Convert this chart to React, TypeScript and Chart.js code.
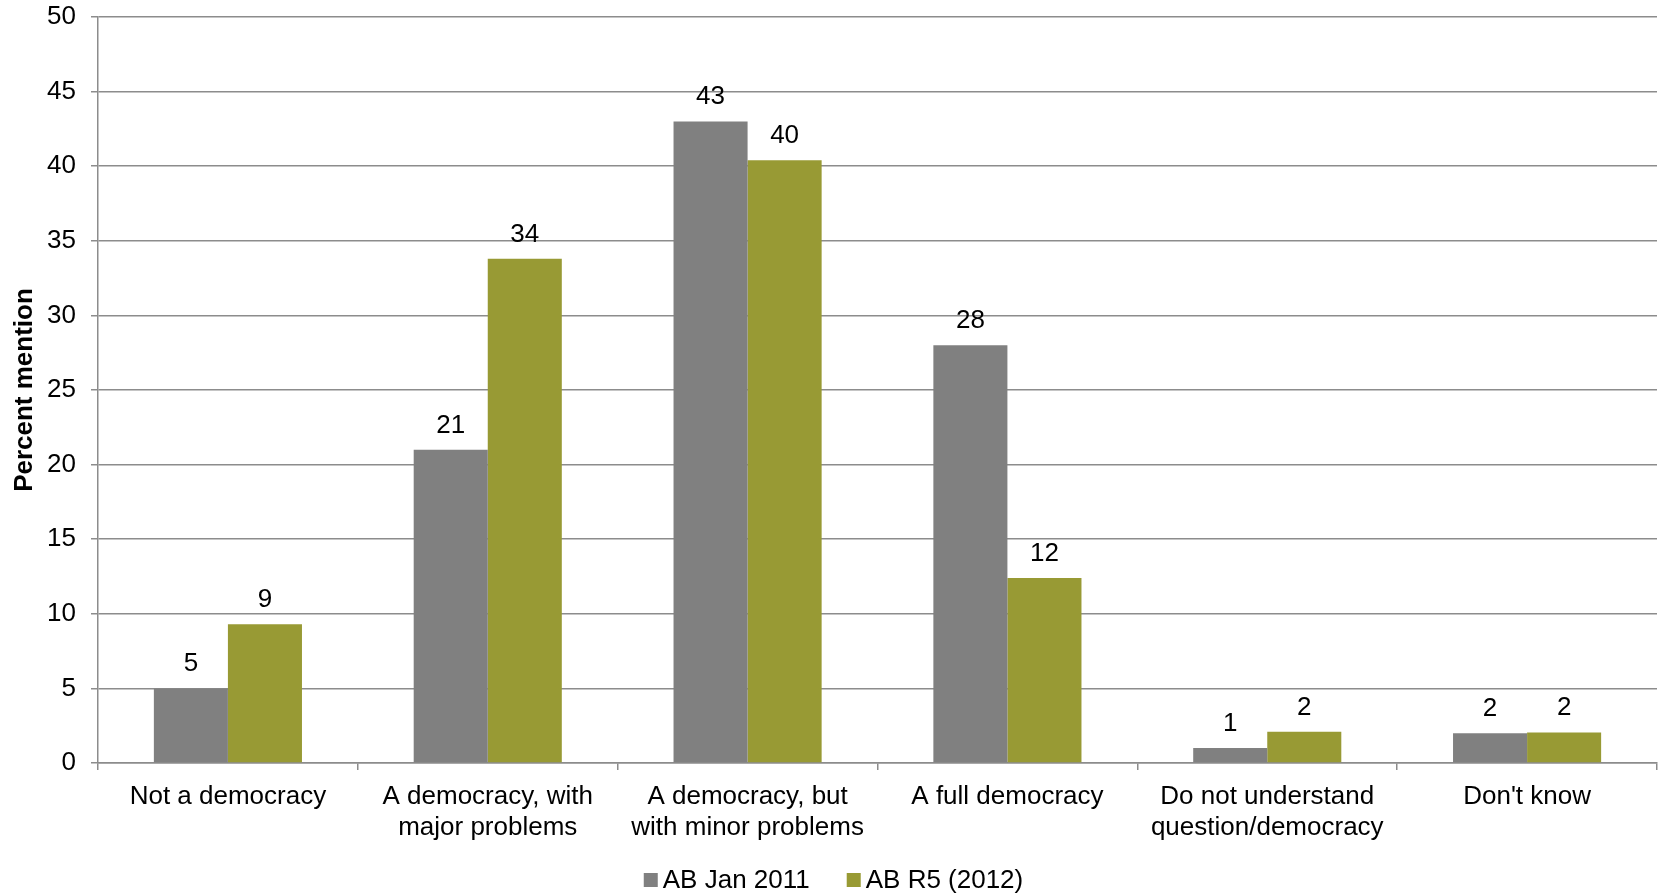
import React, { useEffect, useRef } from "react";
import { Chart, registerables } from "chart.js";

Chart.register(...registerables);

const categories: string[][] = [
  ["Not a democracy"],
  ["A democracy, with", "major problems"],
  ["A democracy, but", "with minor problems"],
  ["A full democracy"],
  ["Do not understand", "question/democracy"],
  ["Don't know"],
];
const seriesNames = ["AB Jan 2011", "AB R5 (2012)"];
const jan2011 = [5, 21, 43, 28, 1, 2];
const r5_2012 = [9.3, 33.8, 40.4, 12.4, 2.1, 2.05];
const seriesColors = ["#808080", "#989A34"];
const yMin = 0;
const yMax = 50;
const yStep = 5;
const yTitle = "Percent mention";

const FONT = "'Liberation Sans', Arial, sans-serif";
const FS = 26;

const dataLabelPlugin = {
  id: "dataLabels",
  afterDatasetsDraw(chart: any) {
    const ctx = chart.ctx;
    ctx.save();
    ctx.font = `${FS}px ${FONT}`;
    ctx.fillStyle = "#000";
    ctx.textAlign = "center";
    ctx.textBaseline = "alphabetic";
    chart.data.datasets.forEach((ds: any, i: number) => {
      const meta = chart.getDatasetMeta(i);
      meta.data.forEach((el: any, j: number) => {
        ctx.fillText(String(Math.round(ds.data[j])), el.x, el.y - 17);
      });
    });
    ctx.restore();
  },
};

const legendPlugin = {
  id: "customLegend",
  afterDraw(chart: any) {
    const ctx = chart.ctx;
    ctx.save();
    ctx.font = `${FS}px ${FONT}`;
    ctx.textBaseline = "alphabetic";
    ctx.textAlign = "left";
    const box = 14;
    const gapBoxText = 5;
    const gapItems = 37;
    const widths = chart.data.datasets.map((d: any) => ctx.measureText(d.label).width);
    let total = 0;
    widths.forEach((w: number, i: number) => {
      total += box + gapBoxText + w + (i < widths.length - 1 ? gapItems : 0);
    });
    let x = chart.width / 2 - total / 2 + 3;
    const baseline = 888;
    chart.data.datasets.forEach((d: any, i: number) => {
      ctx.fillStyle = d.backgroundColor;
      ctx.fillRect(x, baseline - 15, box, box);
      x += box + gapBoxText;
      ctx.fillStyle = "#000";
      ctx.fillText(d.label, x, baseline);
      x += widths[i] + gapItems;
    });
    ctx.restore();
  },
};

export default function App() {
  const ref = useRef<HTMLCanvasElement | null>(null);
  useEffect(() => {
    document.body.style.margin = "0";
    const canvas = ref.current;
    if (!canvas) return;
    const chart = new Chart(canvas, {
      type: "bar",
      data: {
        labels: categories,
        datasets: [
          {
            label: seriesNames[0],
            data: jan2011,
            backgroundColor: seriesColors[0],
            categoryPercentage: 0.57,
            barPercentage: 1,
          },
          {
            label: seriesNames[1],
            data: r5_2012,
            backgroundColor: seriesColors[1],
            categoryPercentage: 0.57,
            barPercentage: 1,
          },
        ],
      },
      options: {
        responsive: false,
        animation: false,
        devicePixelRatio: 1,
        layout: { padding: { top: 17, right: 4, bottom: 55, left: 0 } },
        plugins: {
          legend: { display: false },
          tooltip: { enabled: false },
        },
        scales: {
          x: {
            offset: true,
            grid: {
              display: true,
              drawOnChartArea: false,
              drawTicks: true,
              tickLength: 7,
              offset: true,
              color: "#8c8c8c",
              lineWidth: 1.5,
            },
            border: { display: true, color: "#8c8c8c", width: 1.5 },
            ticks: {
              color: "#000",
              font: { family: FONT, size: FS },
              padding: 11,
              maxRotation: 0,
              autoSkip: false,
            },
            afterFit(scale: any) {
              scale.height = 77;
            },
          },
          y: {
            min: yMin,
            max: yMax,
            grid: {
              color: "#8c8c8c",
              lineWidth: 1.5,
              drawTicks: true,
              tickLength: 7,
            },
            border: { display: true, color: "#8c8c8c", width: 1.5 },
            ticks: {
              stepSize: yStep,
              color: "#000",
              font: { family: FONT, size: FS },
              padding: 15,
            },
            title: {
              display: true,
              text: yTitle,
              color: "#000",
              font: { family: FONT, size: FS, weight: "bold" },
              padding: { top: 9, bottom: 4 },
            },
            afterFit(scale: any) {
              scale.width = 98;
              scale.paddingTop = 0;
              scale.paddingBottom = 0;
            },
          },
        },
      },
      plugins: [dataLabelPlugin, legendPlugin],
    } as any);
    return () => chart.destroy();
  }, []);
  return (
    <div style={{ width: 1661, height: 895 }}>
      <canvas ref={ref} width={1661} height={895} style={{ display: "block" }} />
    </div>
  );
}
